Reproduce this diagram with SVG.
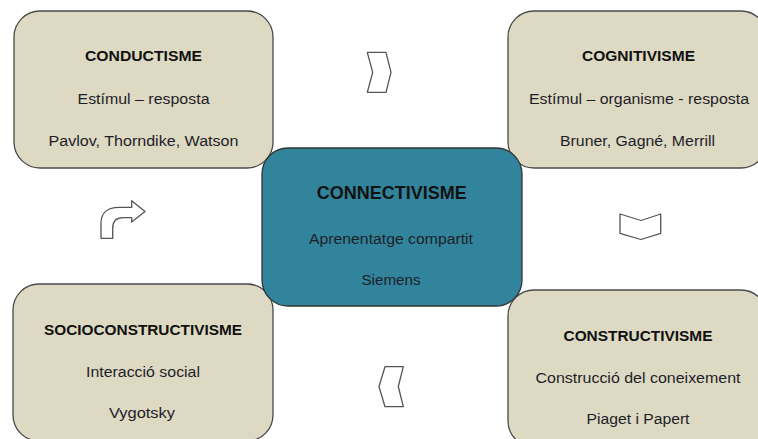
<svg xmlns="http://www.w3.org/2000/svg" width="758" height="439" viewBox="0 0 758 439">
<style>
.box{fill:#DDD9C3;stroke:#4a4a4a;stroke-width:1.3}
.core{fill:#31849B;stroke:#333;stroke-width:1.3}
.arr{fill:#fff;stroke:#555;stroke-width:1.3;stroke-linejoin:round}
text{font-family:"Liberation Sans",Arial,sans-serif;text-anchor:middle;fill:#1e1e28}
.t{font-weight:bold;font-size:15px;fill:#111}
.n{font-size:15.5px}
.ct{font-weight:bold;font-size:18px;fill:#111}
</style>
<rect width="758" height="439" fill="#fff"/>
<g id="connectors">
<path class="arr" d="M367.3,52.3 L386,52.3 L391,72.3 L386,92.3 L367.3,92.3 L372.7,72.3 Z"/>
<path class="arr" d="M620,214 L641,220.5 L660.7,214 L660.7,233.3 L641,239.5 L620,233.3 Z"/>
<path class="arr" d="M385,366.7 L403.3,366.7 L398.3,386.5 L403.3,406.7 L385,406.7 L379,386.5 Z"/>
<path class="arr" d="M101,238.3 L101,223 C101,212.5 108,207.3 119,207.3 L131.7,207.3 L131.7,200.7 L145,211.5 L131.7,222 L131.7,217.7 L123,217.7 C116.5,217.7 112.7,221.5 112.7,228.5 L112.7,238.3 Z"/>
</g>
<g id="conductisme">
<rect class="box" x="14" y="11" width="259" height="157" rx="26"/>
<text class="t" x="143.5" y="61" textLength="117" lengthAdjust="spacingAndGlyphs">CONDUCTISME</text>
<text class="n" x="143.5" y="104" textLength="132" lengthAdjust="spacingAndGlyphs">Estímul – resposta</text>
<text class="n" x="143.5" y="146" textLength="190" lengthAdjust="spacingAndGlyphs">Pavlov, Thorndike, Watson</text>
</g>
<g id="cognitivisme">
<rect class="box" x="508" y="11" width="259" height="157" rx="26"/>
<text class="t" x="638.5" y="61" textLength="113" lengthAdjust="spacingAndGlyphs">COGNITIVISME</text>
<text class="n" x="639" y="104" textLength="220" lengthAdjust="spacingAndGlyphs">Estímul – organisme - resposta</text>
<text class="n" x="637.5" y="146" textLength="155" lengthAdjust="spacingAndGlyphs">Bruner, Gagné, Merrill</text>
</g>
<g id="socioconstructivisme">
<rect class="box" x="13" y="284" width="260" height="157" rx="26"/>
<text class="t" x="143" y="335" textLength="198" lengthAdjust="spacingAndGlyphs">SOCIOCONSTRUCTIVISME</text>
<text class="n" x="143" y="377" textLength="114" lengthAdjust="spacingAndGlyphs">Interacció social</text>
<text class="n" x="142" y="418" textLength="66" lengthAdjust="spacingAndGlyphs">Vygotsky</text>
</g>
<g id="constructivisme">
<rect class="box" x="508" y="290" width="259" height="157" rx="26"/>
<text class="t" x="638" y="340.5" textLength="149" lengthAdjust="spacingAndGlyphs">CONSTRUCTIVISME</text>
<text class="n" x="638" y="383" textLength="205" lengthAdjust="spacingAndGlyphs">Construcció del coneixement</text>
<text class="n" x="638" y="424" textLength="103" lengthAdjust="spacingAndGlyphs">Piaget i Papert</text>
</g>
<g id="connectivisme">
<rect class="core" x="262" y="148" width="260" height="158" rx="26"/>
<text class="ct" x="391.7" y="199.3" textLength="150" lengthAdjust="spacingAndGlyphs">CONNECTIVISME</text>
<text class="n" x="391" y="243.5" textLength="164" lengthAdjust="spacingAndGlyphs">Aprenentatge compartit</text>
<text class="n" x="391" y="285" textLength="59" lengthAdjust="spacingAndGlyphs">Siemens</text>
</g>
</svg>
